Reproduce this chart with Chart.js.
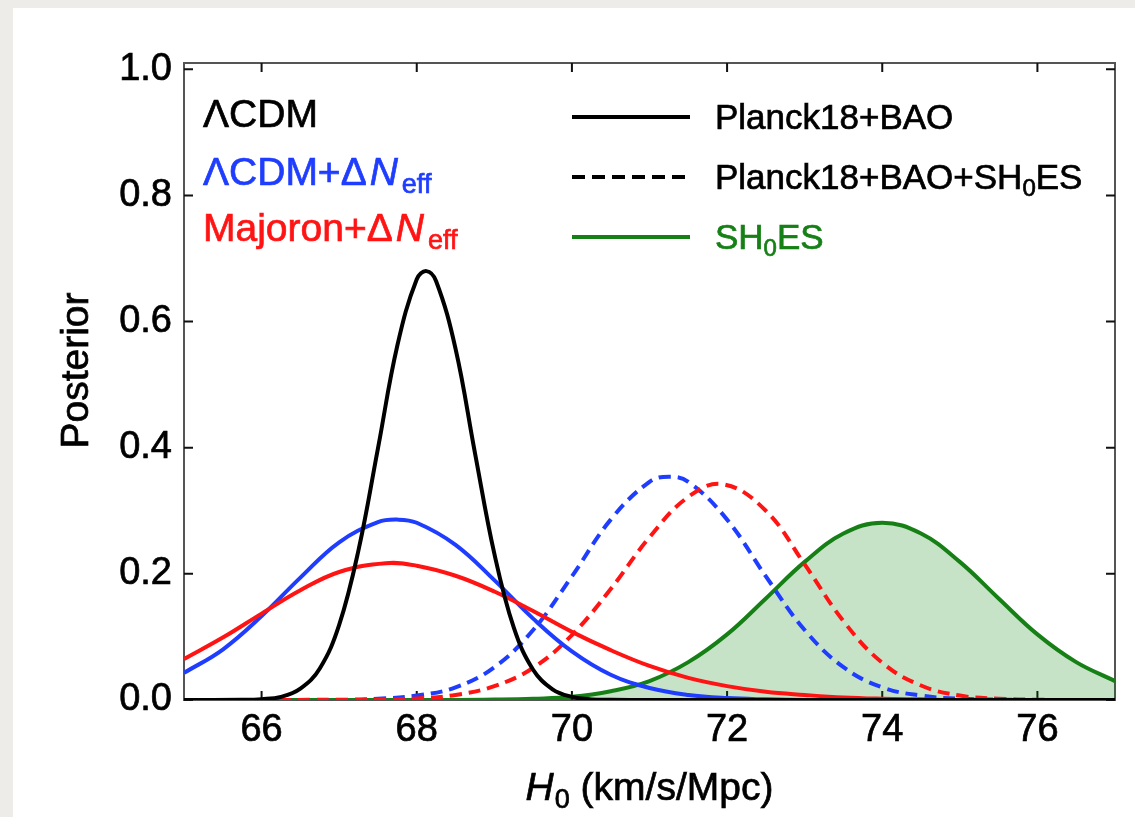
<!DOCTYPE html>
<html>
<head>
<meta charset="utf-8">
<title>H0 posteriors</title>
<script src="https://cdn.jsdelivr.net/npm/chart.js@4.4.1/dist/chart.umd.min.js"></script>
<style>
  html, body { margin: 0; padding: 0; background: #edece9; overflow: hidden; }
  #panel { position: absolute; left: 13px; top: 8px; right: 0; bottom: 0; background: #fff; }
  #plot { position: absolute; left: 0; top: 0; }
</style>
</head>
<body>
<div id="panel"></div>
<canvas id="plot" width="1135" height="817"></canvas>
<script>
// H0 samples (km/s/Mpc) and posterior heights, one pair of arrays per fit
const h0Lcdm = [65, 65.75, 66, 66.25, 66.5, 66.75, 67, 67.25, 67.5, 67.75, 68, 68.125, 68.25, 68.5, 68.75, 69, 69.25, 69.5, 69.75, 70, 70.25, 70.5, 71, 77];
const postLcdm = [0, 0.0003, 0.0013, 0.005, 0.018, 0.050, 0.119, 0.238, 0.399, 0.562, 0.667, 0.680, 0.664, 0.557, 0.392, 0.232, 0.115, 0.048, 0.017, 0.005, 0.001, 0.0002, 0, 0];

const h0Neff = [65, 65.5, 66, 66.5, 67, 67.5, 67.75, 68, 68.5, 69, 69.5, 70, 70.5, 71, 71.5, 72, 72.5, 73, 74, 77];
const postNeff = [0.043, 0.080, 0.133, 0.194, 0.250, 0.282, 0.286, 0.281, 0.246, 0.190, 0.129, 0.077, 0.040, 0.019, 0.008, 0.003, 0.001, 0, 0, 0];

const h0Majoron = [65, 65.5, 66, 66.5, 67, 67.6, 68, 68.5, 69, 69.5, 70, 70.5, 71, 71.5, 72, 72.5, 73, 73.5, 74, 74.5, 75, 76, 77];
const postMajoron = [0.065, 0.099, 0.137, 0.174, 0.203, 0.217, 0.213, 0.197, 0.172, 0.141, 0.108, 0.079, 0.054, 0.035, 0.022, 0.013, 0.008, 0.004, 0.002, 0.001, 0, 0, 0];

const h0NeffShoes = [65, 67, 67.5, 68, 68.5, 69, 69.5, 70, 70.5, 71, 71.25, 71.5, 72, 72.5, 73, 73.5, 74, 74.5, 75, 75.5, 76, 77];
const postNeffShoes = [0, 0.0004, 0.002, 0.007, 0.020, 0.052, 0.111, 0.196, 0.286, 0.346, 0.354, 0.346, 0.286, 0.196, 0.111, 0.052, 0.020, 0.007, 0.002, 0.0006, 0, 0];

const h0MajoronShoes = [65, 67, 67.5, 68, 68.5, 69, 69.5, 70, 70.5, 71, 71.5, 71.95, 72.5, 73, 73.5, 74, 74.5, 75, 75.5, 76, 76.5, 77];
const postMajoronShoes = [0, 0.0001, 0.0006, 0.0024, 0.008, 0.022, 0.051, 0.103, 0.176, 0.258, 0.322, 0.342, 0.300, 0.215, 0.125, 0.059, 0.023, 0.007, 0.002, 0.0004, 0, 0];

const h0Shoes = [65, 68.5, 69, 69.5, 70, 70.5, 71, 71.5, 72, 72.5, 73, 73.5, 74, 74.5, 75, 75.5, 76, 76.5, 77];
const postShoes = [0, 0, 0.0006, 0.002, 0.005, 0.014, 0.030, 0.060, 0.104, 0.161, 0.219, 0.264, 0.281, 0.264, 0.219, 0.161, 0.104, 0.060, 0.030];

const xTickValues = [66, 68, 70, 72, 74, 76];
const yTickValues = [0, 0.2, 0.4, 0.6, 0.8, 1.0];

const BLACK = '#000000';
const BLUE = '#1f3dff';
const RED = '#ff1414';
const GREEN = '#168016';
const FONT = '"Liberation Sans", Arial, Helvetica, sans-serif';

function points(xs, ys) {
	return xs.map(function (v, i) {
		return { x: v, y: ys[i] };
	});
}

function font(size, italic) {
	return (italic ? 'italic ' : '') + size + 'px ' + FONT;
}

// draw a run of text pieces: plain, italic ('i') or subscript ('sub');
// an optional third entry adds extra space after the piece
function drawRuns(ctx, x, y, runs, size, color, align) {
	const subSize = Math.round(size * 0.68);
	const setFont = function (r) {
		ctx.font = r[1] === 'sub' ? font(subSize) : font(size, r[1] === 'i');
	};
	let total = 0;
	runs.forEach(function (r) {
		setFont(r);
		total += ctx.measureText(r[0]).width + (r[2] || 0);
	});
	let cx = align === 'center' ? x - total / 2 : x;
	ctx.fillStyle = color;
	ctx.strokeStyle = color;
	ctx.lineWidth = 0.7;
	ctx.textAlign = 'left';
	ctx.textBaseline = 'alphabetic';
	runs.forEach(function (r) {
		const ty = r[1] === 'sub' ? y + size * 0.2 : y;
		setFont(r);
		ctx.fillText(r[0], cx, ty);
		ctx.strokeText(r[0], cx, ty);
		cx += ctx.measureText(r[0]).width + (r[2] || 0);
	});
}

// box around the plot with inward ticks on all four sides
const framePlugin = {
	id: 'frame',
	beforeDatasetsDraw(chart) {
		const { ctx, chartArea: a, scales } = chart;
		ctx.save();
		ctx.strokeStyle = '#555';
		ctx.lineWidth = 2;
		ctx.strokeRect(a.left, a.top, a.right - a.left, a.bottom - a.top);
		ctx.strokeStyle = '#111';
		ctx.beginPath();
		scales.x.ticks.forEach(function (t) {
			const px = scales.x.getPixelForValue(t.value);
			ctx.moveTo(px, a.bottom);
			ctx.lineTo(px, a.bottom - 9);
			ctx.moveTo(px, a.top);
			ctx.lineTo(px, a.top + 9);
		});
		scales.y.ticks.forEach(function (t) {
			const py = scales.y.getPixelForValue(t.value);
			ctx.moveTo(a.left, py);
			ctx.lineTo(a.left + 9, py);
			ctx.moveTo(a.right, py);
			ctx.lineTo(a.right - 9, py);
		});
		ctx.stroke();
		ctx.restore();
	}
};

// axis titles, model names and the line-style key
const labelPlugin = {
	id: 'labels',
	afterDraw(chart) {
		const { ctx, chartArea: a } = chart;
		ctx.save();

		drawRuns(ctx, (a.left + a.right) / 2, 800, [['H', 'i', 1], ['0', 'sub'], [' (km/s/Mpc)', '']], 39, BLACK, 'center');

		ctx.save();
		ctx.translate(88, (a.top + a.bottom) / 2 - 11);
		ctx.rotate(-Math.PI / 2);
		drawRuns(ctx, 0, 0, [['Posterior', '']], 39, BLACK, 'center');
		ctx.restore();

		drawRuns(ctx, 203, 127, [['\u039BCDM', '']], 39, BLACK);
		drawRuns(ctx, 203, 185, [['\u039BCDM+\u0394', '', 3], ['N', 'i', 4], ['eff', 'sub']], 39, BLUE);
		drawRuns(ctx, 203, 241, [['Majoron+\u0394', '', 3], ['N', 'i', 4], ['eff', 'sub']], 39, RED);

		const key = [
			{ y: 117, color: BLACK, dash: [], text: [['Planck18+BAO', '']], textColor: BLACK },
			{ y: 177, color: BLACK, dash: [13, 7], text: [['Planck18+BAO+SH', ''], ['0', 'sub'], ['ES', '']], textColor: BLACK },
			{ y: 237, color: GREEN, dash: [], text: [['SH', ''], ['0', 'sub'], ['ES', '']], textColor: GREEN }
		];
		key.forEach(function (k) {
			ctx.beginPath();
			ctx.setLineDash(k.dash);
			ctx.strokeStyle = k.color;
			ctx.lineWidth = 4;
			ctx.moveTo(572, k.y);
			ctx.lineTo(690, k.y);
			ctx.stroke();
			ctx.setLineDash([]);
			drawRuns(ctx, 715, k.y + 12, k.text, 35, k.textColor);
		});
		ctx.restore();
	}
};

function curve(label, xs, ys, color, dashed) {
	return {
		label: label,
		data: points(xs, ys),
		borderColor: color,
		borderWidth: 4,
		borderDash: dashed ? [12, 7] : [],
		pointRadius: 0,
		tension: 0.4,
		fill: false
	};
}

const shoesCurve = curve('SH0ES', h0Shoes, postShoes, GREEN, false);
shoesCurve.fill = 'origin';
shoesCurve.backgroundColor = 'rgba(0, 128, 0, 0.22)';

new Chart(document.getElementById('plot'), {
	type: 'line',
	data: {
		datasets: [
			curve('\u039BCDM Planck18+BAO', h0Lcdm, postLcdm, BLACK, false),
			curve('Majoron+\u0394Neff Planck18+BAO', h0Majoron, postMajoron, RED, false),
			curve('\u039BCDM+\u0394Neff Planck18+BAO', h0Neff, postNeff, BLUE, false),
			curve('Majoron+\u0394Neff Planck18+BAO+SH0ES', h0MajoronShoes, postMajoronShoes, RED, true),
			curve('\u039BCDM+\u0394Neff Planck18+BAO+SH0ES', h0NeffShoes, postNeffShoes, BLUE, true),
			shoesCurve
		]
	},
	options: {
		responsive: false,
		devicePixelRatio: 1,
		animation: false,
		layout: { padding: { left: 0, top: 63, right: 20, bottom: 67 } },
		plugins: {
			legend: { display: false },
			tooltip: { enabled: false }
		},
		scales: {
			x: {
				type: 'linear',
				min: 65,
				max: 77,
				grid: { display: false, drawTicks: false },
				border: { display: false },
				afterBuildTicks(scale) {
					scale.ticks = xTickValues.map(function (v) { return { value: v }; });
				},
				afterFit(scale) { scale.height = 50; },
				ticks: {
					color: BLACK,
					padding: 8,
					maxRotation: 0,
					textStrokeColor: BLACK,
					textStrokeWidth: 0.7,
					font: { family: FONT, size: 38 },
					callback: function (v) { return String(v); }
				}
			},
			y: {
				type: 'linear',
				min: 0,
				max: 1.01,
				grid: { display: false, drawTicks: false },
				border: { display: false },
				afterBuildTicks(scale) {
					scale.ticks = yTickValues.map(function (v) { return { value: v }; });
				},
				afterFit(scale) { scale.width = 184; },
				ticks: {
					color: BLACK,
					padding: 12,
					textStrokeColor: BLACK,
					textStrokeWidth: 0.7,
					font: { family: FONT, size: 38 },
					callback: function (v) { return v.toFixed(1); }
				}
			}
		}
	},
	plugins: [framePlugin, labelPlugin]
});
</script>
</body>
</html>
